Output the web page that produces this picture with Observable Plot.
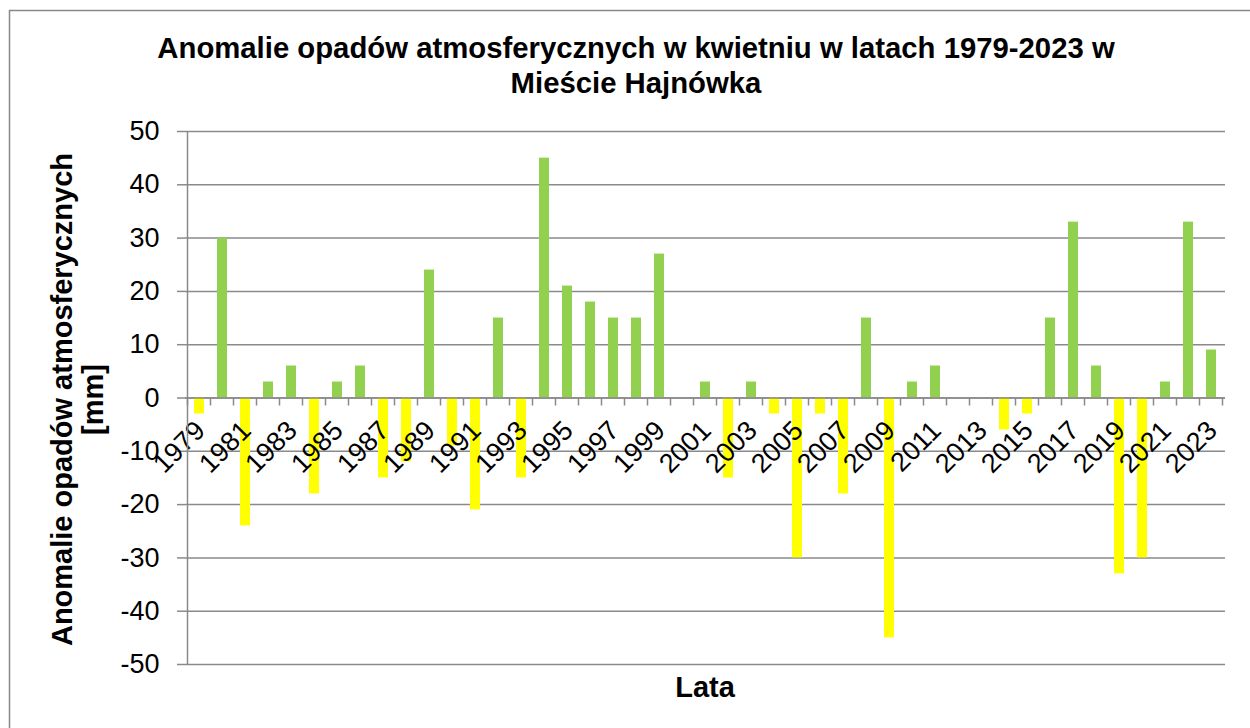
<!DOCTYPE html>
<html>
<head>
<meta charset="utf-8">
<script src="https://cdn.jsdelivr.net/npm/d3@7"></script>
<script src="https://cdn.jsdelivr.net/npm/@observablehq/plot@0.6"></script>
<style>
  html, body { margin: 0; padding: 0; background: #fff; }
  #chart svg { display: block; overflow: visible; }
</style>
</head>
<body>
<div id="chart"></div>
<script>
const years = [1979,1980,1981,1982,1983,1984,1985,1986,1987,1988,1989,1990,1991,1992,1993,1994,1995,1996,1997,1998,1999,2000,2001,2002,2003,2004,2005,2006,2007,2008,2009,2010,2011,2012,2013,2014,2015,2016,2017,2018,2019,2020,2021,2022,2023];
const anomalies = [-3,30,-24,3,6,-18,3,6,-15,-12,24,-9,-21,15,-15,45,21,18,15,15,27,0,3,-15,3,-3,-30,-3,-18,15,-45,3,6,0,0,-6,-3,15,33,6,-33,-30,3,33,9];
const labelYears = [1979,1981,1983,1985,1987,1989,1991,1993,1995,1997,1999,2001,2003,2005,2007,2009,2011,2013,2015,2017,2019,2021,2023];
const yTicks = [-50,-40,-30,-20,-10,0,10,20,30,40,50];
const titleLines = ["Anomalie opadów atmosferycznych w kwietniu w latach 1979-2023 w", "Mieście Hajnówka"];
const yTitleLines = ["Anomalie opadów atmosferycznych", "[mm]"];
const xTitle = "Lata";

const green = "#92D050";
const yellow = "#FFFF00";
const gridColor = "#8a8a8a";
const font = "'Liberation Sans', Arial, sans-serif";

const data = years.map((year, i) => ({year, value: anomalies[i]}));

const plot = Plot.plot({
  width: 1250,
  height: 728,
  marginLeft: 185,
  marginRight: 25,
  marginTop: 131,
  marginBottom: 64,
  style: {fontFamily: font, background: "white", color: "black"},
  x: {type: "band", domain: years, paddingInner: 0.567, paddingOuter: 0.2835, align: 0.5, axis: null},
  y: {domain: [-50, 50], axis: null},
  marks: [
    Plot.gridY(yTicks, {stroke: gridColor, strokeOpacity: 1, strokeWidth: 1.5}),
    Plot.barY(data, {filter: d => d.value > 0, x: "year", y: "value", fill: green}),
    Plot.barY(data, {filter: d => d.value < 0, x: "year", y: "value", fill: yellow}),
    Plot.ruleY([0], {stroke: gridColor, strokeWidth: 1.5}),
    Plot.axisY(yTicks, {tickSize: 8, tickPadding: 18, fontSize: 27, stroke: gridColor, strokeWidth: 1.5, fill: "black", tickFormat: d => String(d), label: null}),
    Plot.text(labelYears, {x: d => d, y: 0, text: d => String(d), rotate: -45, textAnchor: "end", fontSize: 27, fill: "black", dx: 1, dy: 28})
  ]
});

document.getElementById("chart").appendChild(plot);

const svg = d3.select(plot);
const xs = plot.scale("x");
const ys = plot.scale("y");
const step = xs.apply(years[1]) - xs.apply(years[0]);
const bw = xs.bandwidth;
const off = (step - bw) / 2;
const y0 = ys.apply(0);
const yTop = ys.apply(yTicks[yTicks.length - 1]);
const yBot = ys.apply(yTicks[0]);
const xLeft = xs.apply(years[0]) - off;

// outer chart border
svg.insert("rect", ":first-child")
  .attr("x", 9.5).attr("y", 10.5)
  .attr("width", 1300).attr("height", 800)
  .attr("fill", "white").attr("stroke", "#888").attr("stroke-width", 1.5);

// category axis tick marks (between categories)
const bounds = years.map(y => xs.apply(y) - off).concat([xs.apply(years[years.length - 1]) + bw + off]);
svg.append("g").selectAll("line").data(bounds).join("line")
  .attr("x1", d => d).attr("x2", d => d)
  .attr("y1", y0).attr("y2", y0 + 8)
  .attr("stroke", gridColor).attr("stroke-width", 1.5);

// vertical axis line
svg.append("line")
  .attr("x1", xLeft).attr("x2", xLeft)
  .attr("y1", yTop).attr("y2", yBot)
  .attr("stroke", gridColor).attr("stroke-width", 1.5);

// chart title
const cx = (xLeft + bounds[bounds.length - 1]) / 2;
const title = svg.append("text")
  .attr("font-family", font).attr("font-weight", "bold").attr("font-size", 29.3)
  .attr("text-anchor", "middle").attr("fill", "black");
title.append("tspan").attr("x", 636).attr("y", 58).text(titleLines[0]);
title.append("tspan").attr("x", 636).attr("y", 93).text(titleLines[1]);

// y axis title
const ymid = (yTop + yBot) / 2 + 2;
const yt = svg.append("text")
  .attr("font-family", font).attr("font-weight", "bold").attr("font-size", 29)
  .attr("text-anchor", "middle").attr("fill", "black")
  .attr("transform", `translate(0,${ymid}) rotate(-90)`);
yt.append("tspan").attr("x", 0).attr("y", 72).text(yTitleLines[0]);
yt.append("tspan").attr("x", 0).attr("y", 103).text(yTitleLines[1]);

// x axis title
svg.append("text")
  .attr("font-family", font).attr("font-weight", "bold").attr("font-size", 29)
  .attr("text-anchor", "middle").attr("fill", "black")
  .attr("x", cx).attr("y", 697).text(xTitle);
</script>
</body>
</html>
